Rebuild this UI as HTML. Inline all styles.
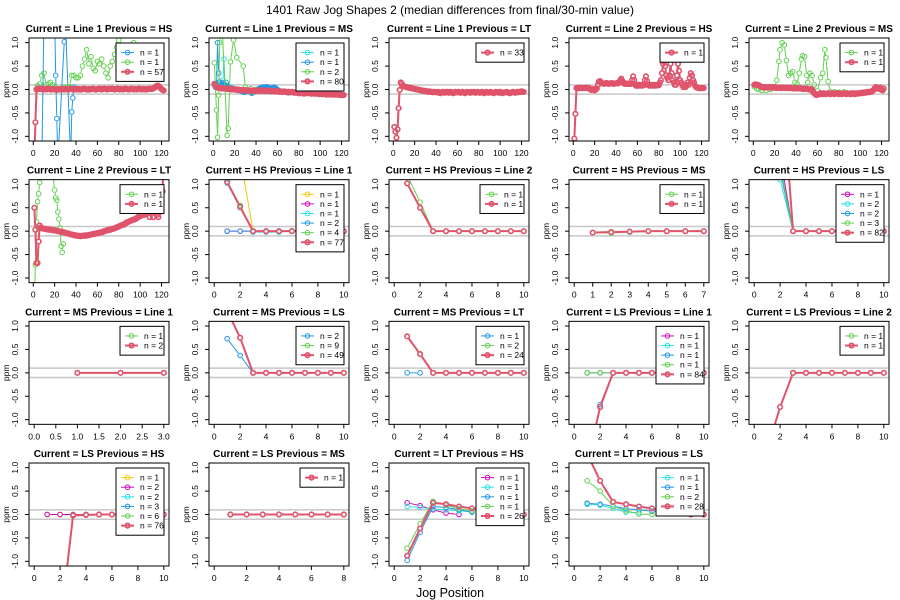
<!DOCTYPE html>
<html><head><meta charset="utf-8"><style>
html,body{margin:0;padding:0;background:#fff}
svg{display:block;font-family:"Liberation Sans",sans-serif}
</style></head><body>
<svg id="chart" width="900" height="600" viewBox="0 0 900 600" xmlns="http://www.w3.org/2000/svg">
<rect x="0" y="0" width="900" height="600" fill="#fff"/>
<text x="450" y="14" font-size="12" text-anchor="middle">1401 Raw Jog Shapes 2 (median differences from final/30-min value)</text>
<text x="450" y="597" font-size="12.5" text-anchor="middle">Jog Position</text>
</svg>
<script>
const RED='#DF536B',GREEN='#61D04F',BLUE='#2297E6',CYAN='#28E2E5',MAG='#CD0BBC',YEL='#F5C710';

// ---- data (values in ppm) ----
const p1Red=[-1.5,-0.7,0.0,0.02,0.01,0.02,0.01,0.01,0.0,0.01,
0.01,0.0,0.01,0.02,0.01,0.0,0.0,0.01,0.01,0.0,
0.0,-0.01,0.0,0.01,0.0,0.01,0.01,0.0,0.0,0.01,
0.01,0.0,0.0,0.01,0.02,0.01,0.0,0.01,0.0,0.01,
0.01,0.0,0.01,0.0,0.0,0.01,0.02,0.01,0.01,0.0,
0.0,0.01,0.0,0.01,0.01,0.02,0.01,0.0,0.0,0.01,
0.01,0.02,0.01,0.0,0.01,0.02,0.02,0.01,0.0,0.01,
0.02,0.01,0.01,0.02,0.01,0.0,0.01,0.01,0.02,0.01,
0.0,0.01,0.01,0.0,0.01,0.02,0.01,0.01,0.0,0.0,
0.01,0.02,0.01,0.0,0.01,0.01,0.0,0.01,0.02,0.01,
0.0,0.01,0.01,0.0,0.01,0.0,0.01,0.01,0.02,0.01,
0.01,0.02,0.03,0.05,0.07,0.08,0.08,0.06,0.03,0.01,
-0.01,-0.02];
const p1GreenVals=[-0.7,0.08,0.12,0.3,0.35,0.1,0.12,0.15,0.1,0.05,0.02,0.0,0.02,0.03,0.05,0.05,0.05,0.3,0.3,0.25,0.25,0.3,0.5,0.65,0.85,0.55,0.7,0.45,0.4,0.6,0.55,0.65,0.5,0.35,0.25,0.5,0.6,0.75,0.9,1.05,0.9,0.8,0.8,0.9,0.85,0.95,1.0,0.8];
const p1BlueX=[8,10,20,21,22,23,29,30,35,36,37,38];
const p1BlueVals=[-1.5,1.5,1.5,0.3,-0.62,-1.5,1.02,1.5,-1.5,-0.48,-0.18,0.05];

const p2Red=[0.12,0.08,0.05,0.04,0.04,0.03,0.03,0.02,0.03,0.02,
0.02,0.02,0.01,0.02,0.01,0.01,0.0,0.01,0.0,0.0,
0.0,-0.01,0.0,-0.01,-0.01,-0.02,-0.01,-0.02,-0.02,-0.01,
-0.02,-0.03,-0.02,-0.02,-0.03,-0.03,-0.02,-0.02,-0.03,-0.03,
-0.02,-0.03,-0.03,-0.02,-0.03,-0.02,-0.02,-0.03,-0.03,-0.02,
-0.03,-0.02,-0.03,-0.04,-0.03,-0.03,-0.04,-0.03,-0.04,-0.04,
-0.04,-0.05,-0.04,-0.05,-0.05,-0.04,-0.05,-0.05,-0.06,-0.05,
-0.05,-0.06,-0.06,-0.05,-0.06,-0.07,-0.06,-0.07,-0.07,-0.08,
-0.08,-0.07,-0.08,-0.08,-0.09,-0.08,-0.07,-0.08,-0.08,-0.08,
-0.08,-0.09,-0.08,-0.08,-0.09,-0.09,-0.08,-0.09,-0.1,-0.09,
-0.09,-0.1,-0.09,-0.1,-0.1,-0.11,-0.1,-0.1,-0.11,-0.1,
-0.1,-0.11,-0.1,-0.11,-0.11,-0.1,-0.11,-0.11,-0.12,-0.11,
-0.12,-0.12];
const p2Blue=[0.1,0.05,0.04,1.0,0.35,0.16,0.1,0.12,0.15,0.12,
0.1,0.15,0.08,0.06,0.05,0.04,0.03,0.02,0.02,0.01,
0.0,0.0,-0.01,-0.02,-0.02,-0.03,-0.04,-0.05,-0.06,-0.05,
-0.04,-0.03,-0.02,-0.02,-0.05,-0.08,-0.06,-0.03,-0.02,-0.01,
0.0,0.01,0.02,0.03,0.04,0.05,0.04,0.03,0.05,0.06,
0.05,0.04,0.03,0.02,0.03,0.04,0.05,0.03,0.02,0.0,
-0.02,-0.03,-0.04,-0.05,-0.06,-0.05,-0.04,-0.05,-0.06,-0.07];
const p2Cyan=[0.1,0.08,0.06,0.1,0.15,0.1,0.08,0.12,0.2,0.65,0.1,0.05,0.04,0.03,0.02];
const p2GreenX=[1,3,4,5,6,8,13,14,16,19,22,28,30,35,40];
const p2GreenVals=[0.57,-0.44,-1.02,-0.12,1.0,1.5,-0.98,-0.83,0.59,1.06,0.68,0.5,0.05,0.02,0.0];

const p3Red=[-0.8,-0.9,-1.03,-0.85,-0.4,-0.01,0.15,0.12,0.08,0.07,
0.06,0.05,0.05,0.04,0.04,0.03,0.03,0.02,0.02,0.01,
0.01,0.0,0.0,-0.01,-0.01,-0.02,-0.02,-0.03,-0.03,-0.03,
-0.04,-0.04,-0.05,-0.04,-0.05,-0.05,-0.06,-0.05,-0.05,-0.06,
-0.06,-0.05,-0.07,-0.08,-0.06,-0.05,-0.06,-0.07,-0.05,-0.06,
-0.05,-0.07,-0.06,-0.05,-0.06,-0.08,-0.07,-0.05,-0.06,-0.06,
-0.05,-0.06,-0.07,-0.06,-0.05,-0.06,-0.08,-0.06,-0.05,-0.06,
-0.06,-0.07,-0.05,-0.06,-0.06,-0.05,-0.07,-0.06,-0.05,-0.06,
-0.07,-0.06,-0.05,-0.06,-0.08,-0.06,-0.05,-0.06,-0.07,-0.06,
-0.05,-0.06,-0.07,-0.08,-0.06,-0.05,-0.06,-0.06,-0.07,-0.05,
-0.06,-0.08,-0.07,-0.06,-0.06,-0.05,-0.06,-0.07,-0.08,-0.07,
-0.06,-0.05,-0.06,-0.07,-0.06,-0.05,-0.06,-0.05,-0.05,-0.04,
-0.05,-0.05];

const p4Red=[-1.05,-0.52,0.03,0.03,0.03,0.03,0.04,0.03,0.03,0.03,
0.03,0.04,0.03,0.03,0.03,0.0,-0.01,0.0,0.01,-0.02,
0.0,0.02,0.1,0.17,0.18,0.15,0.13,0.13,0.12,0.13,
0.14,0.13,0.12,0.13,0.13,0.14,0.13,0.12,0.13,0.13,
0.14,0.13,0.15,0.2,0.23,0.18,0.14,0.12,0.12,0.13,
0.12,0.12,0.12,0.12,0.2,0.28,0.2,0.1,0.08,0.1,
0.08,0.1,0.09,0.08,0.1,0.09,0.2,0.28,0.18,0.1,
0.08,0.09,0.1,0.08,0.09,0.1,0.08,0.09,0.1,0.09,
0.15,0.2,0.35,0.55,0.6,0.5,0.3,0.25,0.2,0.3,
0.55,0.35,0.2,0.15,0.1,0.1,0.3,0.55,0.4,0.2,
0.15,0.1,0.05,0.08,0.05,0.1,0.15,0.1,0.25,0.35,
0.3,0.2,0.15,0.08,0.05,0.04,0.03,0.03,0.03,0.03,
0.03,0.03];

const p5Red=[0.1,0.11,0.1,0.1,0.09,0.08,0.06,0.05,0.05,0.04,
0.05,0.05,0.04,0.05,0.05,0.04,0.05,0.04,0.05,0.05,
0.04,0.03,0.04,0.04,0.03,0.04,0.03,0.04,0.04,0.03,
0.03,0.04,0.03,0.03,0.04,0.03,0.02,0.03,0.03,0.02,
0.03,0.02,0.02,0.03,0.02,0.01,0.02,0.01,0.02,0.02,
0.01,0.0,0.0,0.01,0.0,-0.05,-0.08,-0.1,-0.12,-0.1,
-0.11,-0.1,-0.08,-0.09,-0.1,-0.08,-0.09,-0.1,-0.09,-0.08,
-0.09,-0.1,-0.08,-0.09,-0.08,-0.1,-0.09,-0.08,-0.09,-0.1,
-0.08,-0.09,-0.1,-0.09,-0.08,-0.09,-0.1,-0.08,-0.09,-0.09,
-0.1,-0.08,-0.09,-0.08,-0.1,-0.09,-0.08,-0.09,-0.08,-0.08,
-0.07,-0.08,-0.07,-0.06,-0.07,-0.06,-0.05,-0.06,-0.05,-0.05,
-0.04,-0.02,0.0,0.04,0.05,0.02,0.03,0.01,0.04,0.0,
-0.02,0.02];
const p5GreenX=[1,3,5,8,12,16,20,22,24,25,27,29,31,33,35,37,39,41,43,45,46,48,50,51,53,55,57,60,63,65,67,68,70,72,76,80,85];
const p5GreenVals=[0.06,0.02,0.0,-0.02,-0.02,0.0,0.03,0.2,0.6,0.85,1.0,0.95,0.62,0.3,0.35,0.38,0.15,0.12,0.35,0.65,0.72,0.7,0.3,0.15,0.35,0.3,0.1,-0.03,0.25,0.35,0.85,0.68,0.17,-0.05,-0.05,-0.06,-0.05];

const p6Red=[0.5,0.03,-0.68,-0.68,-0.22,0.12,0.08,0.06,0.06,0.05,
0.05,0.04,0.04,0.04,0.03,0.03,0.03,0.02,0.02,0.02,
0.01,0.01,0.0,0.0,-0.01,-0.01,-0.02,-0.02,-0.03,-0.03,
-0.04,-0.05,-0.05,-0.06,-0.07,-0.07,-0.08,-0.08,-0.09,-0.09,
-0.1,-0.1,-0.1,-0.11,-0.1,-0.1,-0.1,-0.09,-0.1,-0.09,
-0.09,-0.08,-0.08,-0.07,-0.07,-0.06,-0.06,-0.05,-0.05,-0.04,
-0.04,-0.03,-0.03,-0.02,-0.02,0.0,0.0,0.01,0.02,0.02,
0.03,0.03,0.04,0.05,0.05,0.06,0.07,0.08,0.09,0.1,
0.11,0.12,0.13,0.14,0.14,0.16,0.18,0.19,0.2,0.21,
0.22,0.23,0.24,0.25,0.25,0.27,0.28,0.3,0.31,0.32,
0.33,0.34,0.35,0.35,0.36,0.37,0.38,0.4,0.3,0.41,
0.42,0.3,0.4,0.42,0.45,0.35,0.3,0.4,0.45,0.5,
0.85,1.5];
const p6GreenX=[1,2,3,4,5,6,7,10,17,20,21,22,23,24,25,26,27,28];
const p6GreenVals=[-1.5,-0.72,0.2,0.63,0.8,1.04,1.5,1.6,1.5,0.88,0.71,0.66,0.41,0.26,0.07,-0.32,-0.45,-0.27];

const p7Yellow=[2.5,1.6,0,0,0,0,0,0,0,0];
const p7Magenta=[0,0,0,0,0,0,0,0,0,0];
const p7Cyan=[1.02,0.5,-0.02,-0.02,-0.02,0,0,0,0,0];
const p7Blue=[0,0,0,0,0,0,0,0,0,0];
const p7Green=[1.05,0.55,0,0,0,0.01,0,0,0,0];
const p7Red=[1.05,0.52,0,0,0,0,0,0,0,0];

const p8Green=[1.2,0.62,0,0,0,0,0,0,0,0];
const p8Red=[1.02,0.5,0,0,0,0,0,0,0,0];

const p9Green=[-0.03,-0.04,-0.02];
const p9Red=[-0.03,-0.02,-0.01,0,0,0,0];

const p10Magenta=[null,1.6,0,0,0,0,0,0,0,0];
const p10Cyan=[null,1.1,0,0,0,0,0,0,0,0];
const p10Blue=[null,1.3,0,0,0,0,0,0,0,0];
const p10Green=[null,1.4,0,0,0,0,0,0,0,0];
const p10Red=[null,3.7,0,0,0,0,0,0,0,0];

const p11Red=[0,0,0];

const p12Blue=[0.73,0.37,0,0,0,0,0,0,0,0];
const p12Green=[1.33,0.75,0,0,0,0,0,0,0,0];
const p12Red=[1.33,0.75,0,0,0,0,0,0,0,0];

const p13Blue=[0,0];
const p13Green=[0.78,0.4,0,0,0,0,0,0,0,0];
const p13Red=[0.78,0.4,0,0,0,0,0,0,0,0];

const p14Magenta=[0,0,0];
const p14Cyan=[0,0,0];
const p14Blue=[-2.1,-0.68,0,0,0,0,0,0,0,0];
const p14Green=[0,0,0];
const p14Red=[-1.96,-0.73,0,0,0,0,0,0,0,0];

const p15Green=[-1.65,-0.73,0,0,0,0,0,0,0,0];
const p15Red=[-1.65,-0.73,0,0,0,0,0,0,0,0];

const p16Yellow=[0,0,0,0,0,0,0,0,0,0];
const p16Magenta=[0,0,0,0,0,0,0,0,0,0];
const p16Cyan=[null,null,-0.02,0,0,0,0,0,0,0];
const p16Blue=[null,null,-0.02,0,0,0,0,0,0,0];
const p16Green=[null,null,-0.01,0,0,0,0,0,0,0];
const p16Red=[null,-2.42,-0.02,-0.01,0,0,0,0,0,0];

const p17Red=[0,0,0,0,0,0,0,0];

const p18Magenta=[0.25,0.19,0.1,0.03,0.0];
const p18Cyan=[0.17,0.15,0.12,0.1,0.08,0.06];
const p18Blue=[-0.98,-0.38,0.17,0.15,0.1,0.05];
const p18Green=[-0.72,-0.2,0.28,0.2,0.12,0.08];
const p18Red=[-0.88,-0.3,0.25,0.22,0.17,0.13,0.1,0.06,0.03,0.0];

const p19Cyan=[0.22,0.2,0.13,0.05,0.04];
const p19Blue=[0.24,0.22,0.18,0.12,0.1,0.07,0.04];
const p19Green=[0.72,0.5,0.18,0.08,0.01,0.0];
const p19Red=[1.3,0.72,0.27,0.22,0.17,0.13,0.08,0.04,0.0,0.0];

// ---- panel definitions ----
const X120={lim:[-4,127],ticks:[0,20,40,60,80,100,120]};
const X10={lim:[-0.4,10.4],ticks:[0,2,4,6,8,10]};
const X7={lim:[-0.28,7.28],ticks:[0,1,2,3,4,5,6,7]};
const X3={lim:[-0.12,3.12],ticks:[0,0.5,1,1.5,2,2.5,3],fmt:1};
const X8={lim:[-0.32,8.32],ticks:[0,2,4,6,8]};
function S(col,vals,n,opt){return Object.assign({col:col,vals:vals,n:n},opt||{});}
const panels=[
 {t:'Current = Line 1  Previous = HS',x:X120,s:[S(BLUE,p1BlueVals,1,{xs:p1BlueX}),S(GREEN,p1GreenVals,1,{x0:2,dx:2}),S(RED,p1Red,57)]},
 {t:'Current = Line 1  Previous = MS',x:X120,s:[S(CYAN,p2Cyan,1),S(BLUE,p2Blue,1),S(GREEN,p2GreenVals,2,{xs:p2GreenX}),S(RED,p2Red,80)]},
 {t:'Current = Line 1  Previous = LT',x:X120,s:[S(RED,p3Red,33)]},
 {t:'Current = Line 2  Previous = HS',x:X120,s:[S(RED,p4Red,1)]},
 {t:'Current = Line 2  Previous = MS',x:X120,s:[S(GREEN,p5GreenVals,1,{xs:p5GreenX}),S(RED,p5Red,1)]},
 {t:'Current = Line 2  Previous = LT',x:X120,s:[S(GREEN,p6GreenVals,1,{xs:p6GreenX}),S(RED,p6Red,1)]},
 {t:'Current = HS  Previous = Line 1',x:X10,s:[S(YEL,p7Yellow,1),S(MAG,p7Magenta,1),S(CYAN,p7Cyan,1),S(BLUE,p7Blue,2),S(GREEN,p7Green,4),S(RED,p7Red,77)]},
 {t:'Current = HS  Previous = Line 2',x:X10,s:[S(GREEN,p8Green,1),S(RED,p8Red,1)]},
 {t:'Current = HS  Previous = MS',x:X7,s:[S(GREEN,p9Green,1),S(RED,p9Red,1)]},
 {t:'Current = HS  Previous = LS',x:X10,s:[S(MAG,p10Magenta,1),S(CYAN,p10Cyan,2),S(BLUE,p10Blue,2),S(GREEN,p10Green,3),S(RED,p10Red,82)]},
 {t:'Current = MS  Previous = Line 1',x:X3,s:[S(GREEN,[],1),S(RED,p11Red,2)]},
 {t:'Current = MS  Previous = LS',x:X10,s:[S(BLUE,p12Blue,2),S(GREEN,p12Green,9),S(RED,p12Red,49)]},
 {t:'Current = MS  Previous = LT',x:X10,s:[S(BLUE,p13Blue,1),S(GREEN,p13Green,2),S(RED,p13Red,24)]},
 {t:'Current = LS  Previous = Line 1',x:X10,s:[S(MAG,p14Magenta,1),S(CYAN,p14Cyan,1),S(BLUE,p14Blue,1),S(GREEN,p14Green,1),S(RED,p14Red,84)]},
 {t:'Current = LS  Previous = Line 2',x:X10,s:[S(GREEN,p15Green,1),S(RED,p15Red,1)]},
 {t:'Current = LS  Previous = HS',x:X10,s:[S(YEL,p16Yellow,1),S(MAG,p16Magenta,2),S(CYAN,p16Cyan,2),S(BLUE,p16Blue,3),S(GREEN,p16Green,6),S(RED,p16Red,76)]},
 {t:'Current = LS  Previous = MS',x:X8,s:[S(RED,p17Red,1)]},
 {t:'Current = LT  Previous = HS',x:X10,s:[S(MAG,p18Magenta,1),S(CYAN,p18Cyan,1),S(BLUE,p18Blue,1),S(GREEN,p18Green,1),S(RED,p18Red,26)]},
 {t:'Current = LT  Previous = LS',x:X10,s:[S(CYAN,p19Cyan,1),S(BLUE,p19Blue,1),S(GREEN,p19Green,2),S(RED,p19Red,28)]}
];
const YTICKS=[-1,-0.5,0,0.5,1];
const YLIM=[-1.1,1.1];

const NS='http://www.w3.org/2000/svg';
const svg=document.getElementById('chart');
function el(tag,attrs,parent){const e=document.createElementNS(NS,tag);for(const k in attrs)e.setAttribute(k,attrs[k]);(parent||svg).appendChild(e);return e;}

panels.forEach(function(p,i){
  const c=i%5,r=Math.floor(i/5);
  const L=29+180*c,R=169+180*c,T=38+141.67*r,B=T+103;
  const g=el('g',{});
  
  
  const xs=function(v){return L+(v-p.x.lim[0])/(p.x.lim[1]-p.x.lim[0])*(R-L);};
  const ys=function(v){return T+(YLIM[1]-v)/(YLIM[1]-YLIM[0])*(B-T);};
  const tt=el('text',{x:(L+R)/2,y:T-6,'font-size':10,'font-weight':'bold','text-anchor':'middle'},g);
  tt.textContent=p.t;
  
  
  const cp=el('clipPath',{id:'clip'+i},g);
  el('rect',{x:L,y:T,width:R-L,height:B-T},cp);
  [0.1,-0.1].forEach(function(v){
    const ln=el('line',{x1:L,x2:R,y1:ys(v),y2:ys(v),stroke:'#c8c8c8','stroke-width':1.5},g);
    
    
  });
  const sg=el('g',{'clip-path':'url(#clip'+i+')'},g);
  p.s.forEach(function(s){
    const isRed=s.col===RED;
    const pts=[];
    s.vals.forEach(function(v,k){
      if(v===null)return;
      const xv=s.xs?s.xs[k]:(s.x0!==undefined?s.x0+k*s.dx:k+1);
      pts.push([xs(xv),ys(v)]);
    });
    const lw=isRed?2:1,gap=3;
    for(let k=0;k<pts.length-1;k++){
      const a=pts[k],b=pts[k+1];
      const dx=b[0]-a[0],dy=b[1]-a[1],d=Math.hypot(dx,dy);
      if(d<=2*gap+0.5)continue;
      const ux=dx/d,uy=dy/d;
      const seg=el('line',{x1:a[0]+ux*gap,y1:a[1]+uy*gap,x2:b[0]-ux*gap,y2:b[1]-uy*gap,stroke:s.col,'stroke-width':lw},sg);
      
      
    }
    pts.forEach(function(q){
      const m=el('circle',{cx:q[0],cy:q[1],r:2.3,fill:'none',stroke:s.col,'stroke-width':isRed?1.6:1},sg);
      
      
    });
  });
  const bx=el('rect',{x:L,y:T,width:R-L,height:B-T,fill:'none',stroke:'#000','stroke-width':1},g);
  
  
  YTICKS.forEach(function(v){
    const y=ys(v);
    el('line',{x1:L-4,x2:L,y1:y,y2:y,stroke:'#000','stroke-width':1},g);
    const lb=el('text',{x:0,y:0,'font-size':8.5,'text-anchor':'middle',transform:'translate('+(L-11)+','+y+') rotate(-90)'},g);
    lb.textContent=v.toFixed(1);
    
    
  });
  const yl=el('text',{x:0,y:0,'font-size':8.5,'text-anchor':'middle',transform:'translate('+(L-20)+','+((T+B)/2)+') rotate(-90)'},g);
  yl.textContent='ppm';
  
  
  p.x.ticks.forEach(function(v){
    const x=xs(v);
    if(x<L-0.5||x>R+0.5)return;
    el('line',{x1:x,x2:x,y1:B,y2:B+4,stroke:'#000','stroke-width':1},g);
    const lb=el('text',{x:x,y:B+15,'font-size':8.5,'text-anchor':'middle'},g);
    lb.textContent=p.x.fmt?v.toFixed(1):String(v);
    
    
  });
  const twoDigit=p.s.some(function(s){return s.n>=10;});
  const lw=twoDigit?48:44, lh=(p.s.length+1)*9.6;
  const lx=R-5-lw, ly=T+5;
  const lg=el('g',{},g);
  
  
  el('rect',{x:lx,y:ly,width:lw,height:lh,fill:'#fff',stroke:'#000','stroke-width':1},lg);
  p.s.forEach(function(s,k){
    const cy=ly+9.6+k*9.6;
    const isRed=s.col===RED;
    const ent=el('g',{},lg);
    
    
    el('line',{x1:lx+5,x2:lx+18,y1:cy,y2:cy,stroke:s.col,'stroke-width':isRed?2:1},ent);
    el('circle',{cx:lx+11.5,cy:cy,r:2.3,fill:'none',stroke:s.col,'stroke-width':isRed?1.6:1},ent);
    const tx=el('text',{x:lx+24,y:cy+3,'font-size':8.5},ent);
    tx.textContent='n = '+s.n;
  });
});
</script>
</body></html>
